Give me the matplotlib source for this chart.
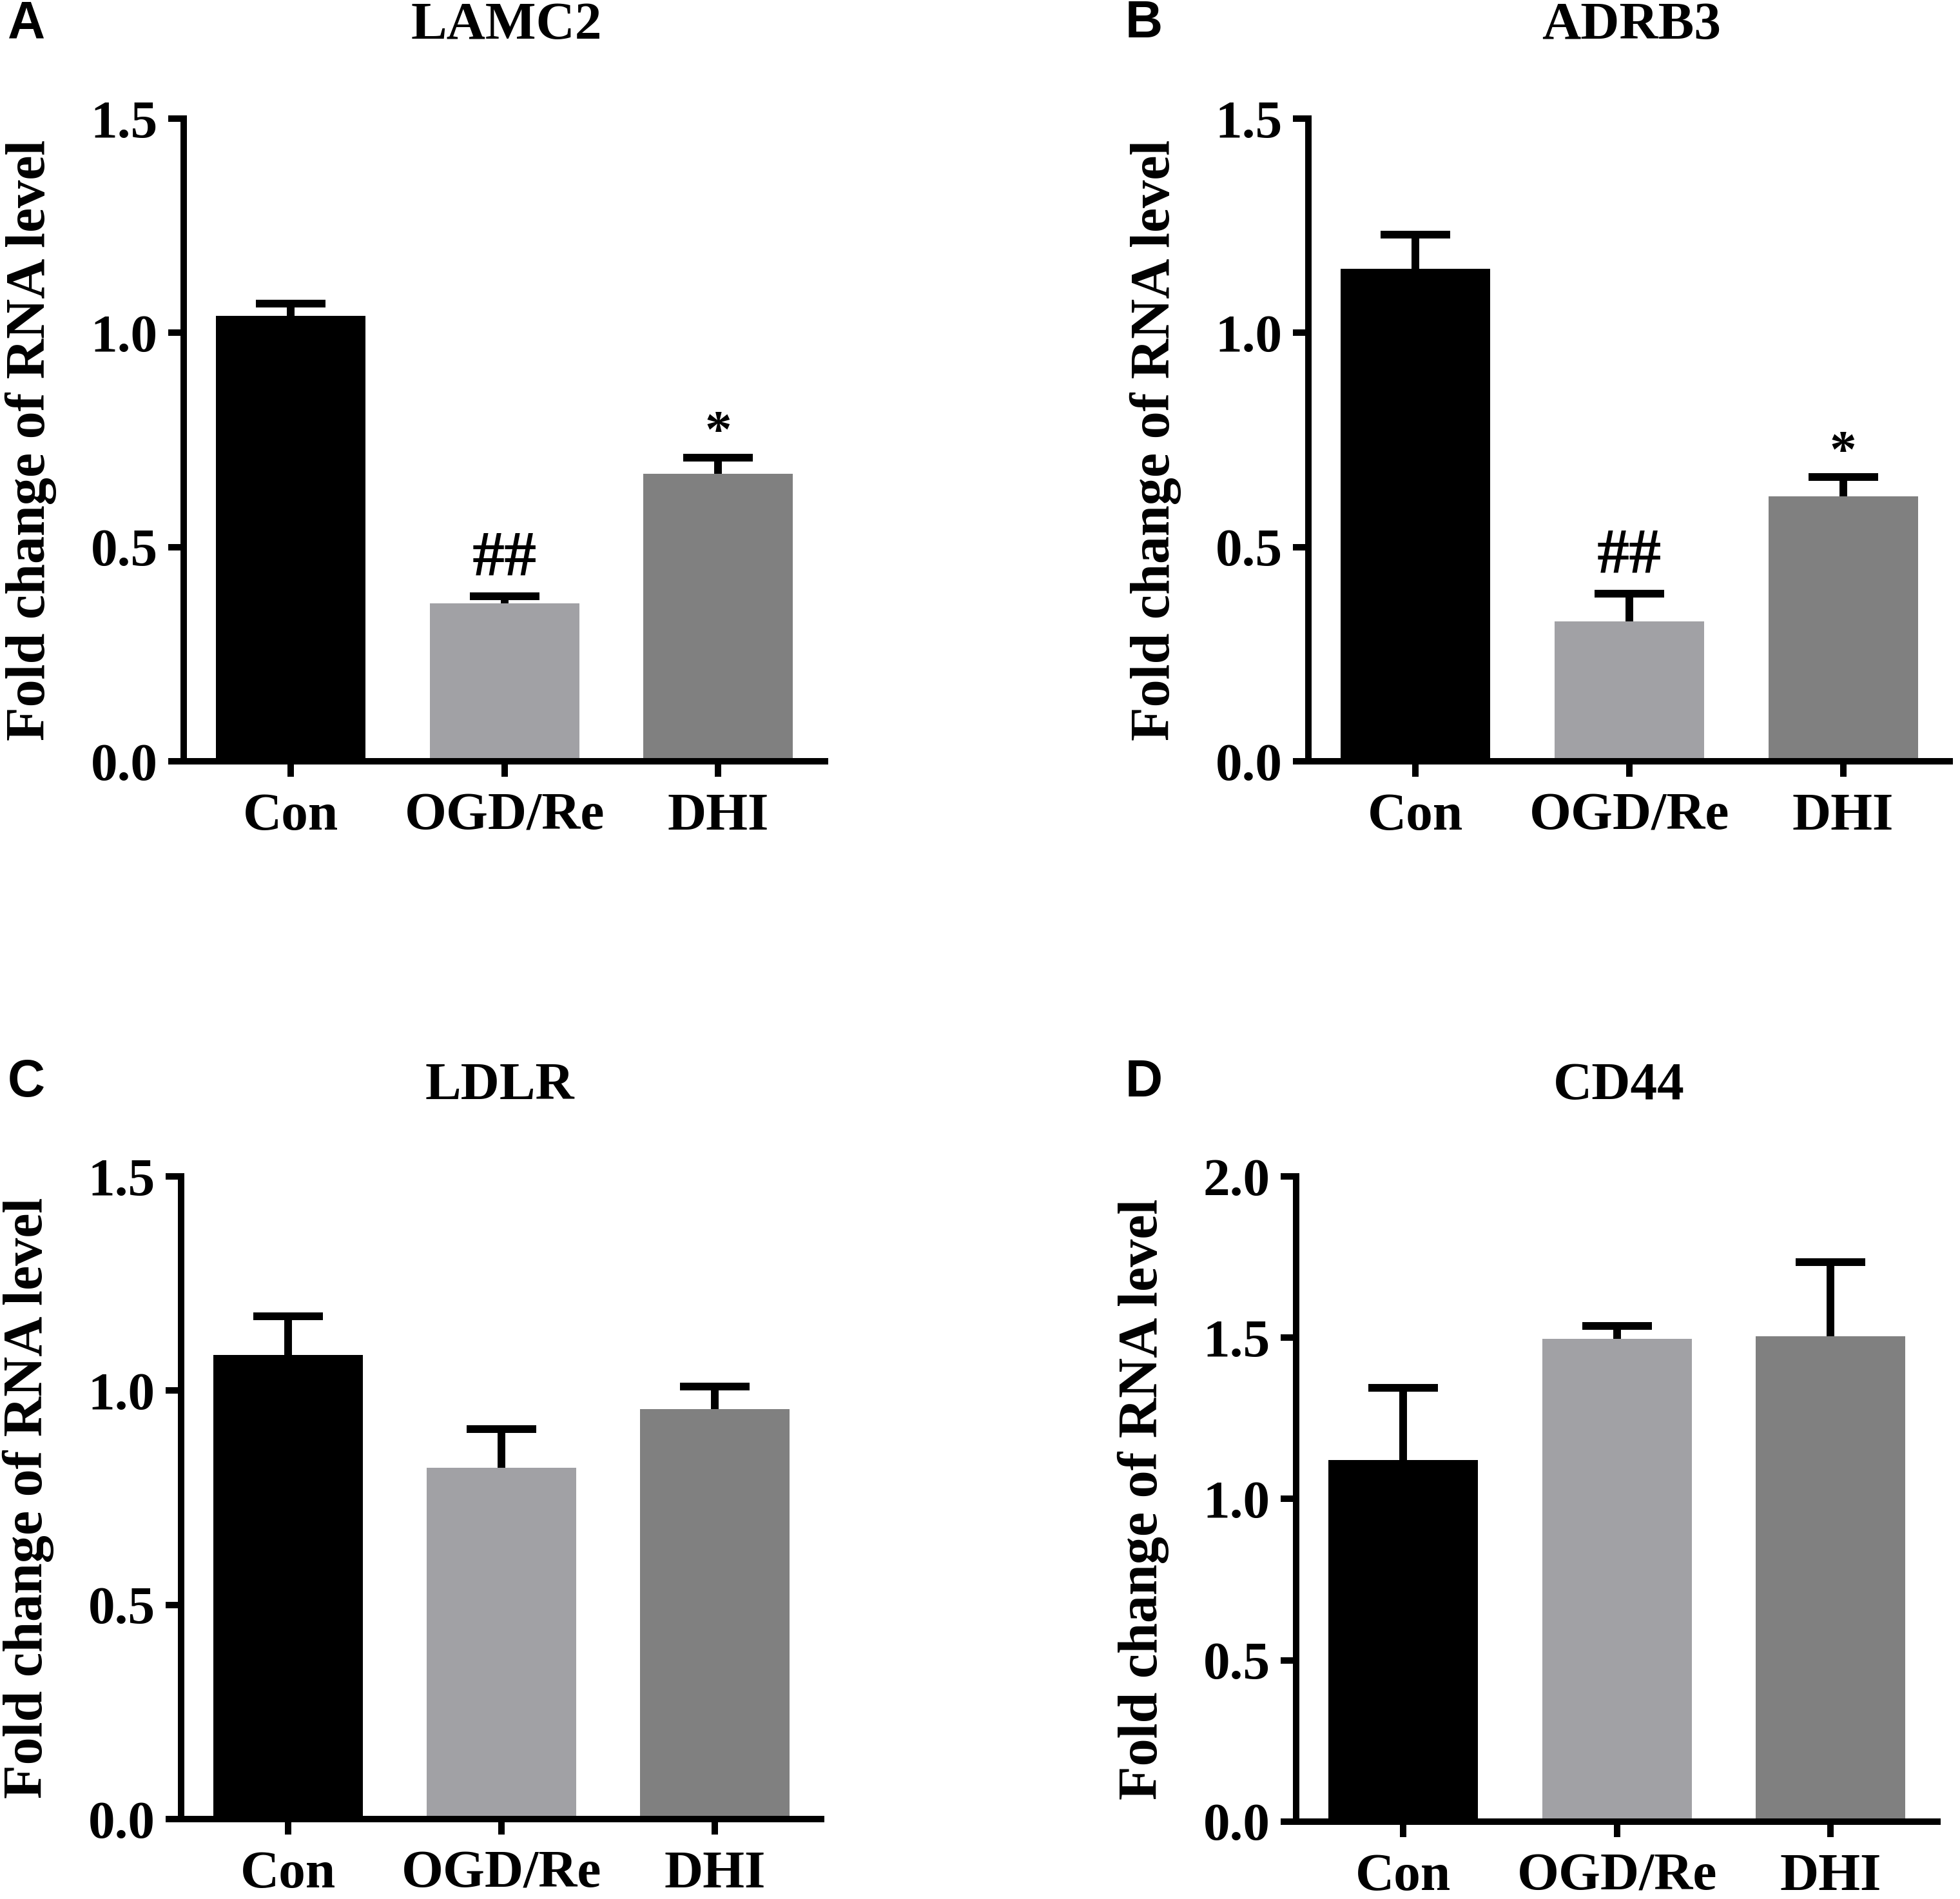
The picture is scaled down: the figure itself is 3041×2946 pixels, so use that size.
import matplotlib
matplotlib.use("Agg")
import matplotlib.pyplot as plt

groups = ["Con", "OGD/Re", "DHI"]
colors = ["#000000", "#A1A1A5", "#808080"]

genes = ["LAMC2", "ADRB3", "LDLR", "CD44"]
panel_letters = ["A", "B", "C", "D"]

lamc2_mean = [1.04, 0.368, 0.671]
lamc2_err = [0.028, 0.017, 0.038]
adrb3_mean = [1.150, 0.327, 0.619]
adrb3_err = [0.080, 0.064, 0.044]
ldlr_mean = [1.083, 0.820, 0.957]
ldlr_err = [0.090, 0.090, 0.053]
cd44_mean = [1.120, 1.496, 1.504]
cd44_err = [0.225, 0.040, 0.230]

lamc2_sig = ["", "##", "*"]
adrb3_sig = ["", "##", "*"]
ldlr_sig = ["", "", ""]
cd44_sig = ["", "", ""]

ymax = [1.5, 1.5, 1.5, 2.0]
yticks = [[0.0, 0.5, 1.0, 1.5], [0.0, 0.5, 1.0, 1.5],
          [0.0, 0.5, 1.0, 1.5], [0.0, 0.5, 1.0, 1.5, 2.0]]

means = [lamc2_mean, adrb3_mean, ldlr_mean, cd44_mean]
errs = [lamc2_err, adrb3_err, ldlr_err, cd44_err]
sigs = [lamc2_sig, adrb3_sig, ldlr_sig, cd44_sig]

SERIF = ["Liberation Serif", "DejaVu Serif"]
SANS = ["Liberation Sans", "DejaVu Sans"]

fig = plt.figure(figsize=(15.205, 14.73), dpi=200)

rects = [
    [0.0938, 0.5991, 0.3271, 0.3384],
    [0.6677, 0.5991, 0.3272, 0.3384],
    [0.0925, 0.0421, 0.3265, 0.3384],
    [0.6614, 0.0408, 0.3271, 0.3397],
]

LW = 3.6
EW = 4.3
for i in range(4):
    ax = fig.add_axes(rects[i])
    x = list(range(len(groups)))
    ax.bar(x, means[i], width=0.7, color=colors, zorder=2)
    tops = [m + e for m, e in zip(means[i], errs[i])]
    ax.vlines(x, means[i], tops, colors="black", linewidth=EW, zorder=3)
    ax.plot(x, tops, linestyle="none", marker="_", markersize=39,
            markeredgewidth=EW, color="black", zorder=3)
    for xi, t, s in zip(x, tops, sigs[i]):
        if s:
            if s.startswith("#"):
                ax.annotate(s, (xi, t), xytext=(0, 12),
                            textcoords="offset points", ha="center",
                            va="baseline", fontsize=36, fontweight="bold",
                            family=SERIF)
            else:
                ax.annotate(s, (xi, t), xytext=(0, 6),
                            textcoords="offset points", ha="center",
                            va="baseline", fontsize=30, fontweight="bold",
                            family=SERIF)
    ax.set_xlim(-0.5, 2.5)
    ax.set_ylim(0, ymax[i])
    ax.set_yticks(yticks[i])
    ax.set_yticklabels([f"{t:.1f}" for t in yticks[i]], family=SERIF,
                       fontweight="bold", fontsize=30)
    ax.set_xticks(x)
    ax.set_xticklabels(groups, family=SERIF, fontweight="bold", fontsize=30)
    for sp in ["top", "right"]:
        ax.spines[sp].set_visible(False)
    for sp in ["left", "bottom"]:
        ax.spines[sp].set_linewidth(LW)
    ax.tick_params(axis="both", direction="out", length=8.6, width=LW,
                   pad=6)
    ax.tick_params(axis="x", pad=9)
    ax.set_ylabel("Fold change of RNA level", family=SERIF,
                  fontweight="bold", fontsize=31, labelpad=19)

title_y = [1 - 31 / 1519, 1 - 31 / 1519, 1 - 879 / 1519, 1 - 879 / 1519]
title_x = [405 / 1568, 1305 / 1568, 400 / 1568, 1295 / 1568]
letter_x = [6 / 1568, 900 / 1568, 6 / 1568, 900 / 1568]
letter_y = [1 - 30 / 1519, 1 - 30 / 1519, 1 - 877 / 1519, 1 - 877 / 1519]
for i in range(4):
    fig.text(title_x[i], title_y[i], genes[i], ha="center", va="baseline",
             family=SERIF, fontweight="bold", fontsize=30)
    fig.text(letter_x[i], letter_y[i], panel_letters[i], ha="left",
             va="baseline", family=SANS, fontweight="bold", fontsize=29)

fig.savefig("out.png", dpi=200, facecolor="white")
